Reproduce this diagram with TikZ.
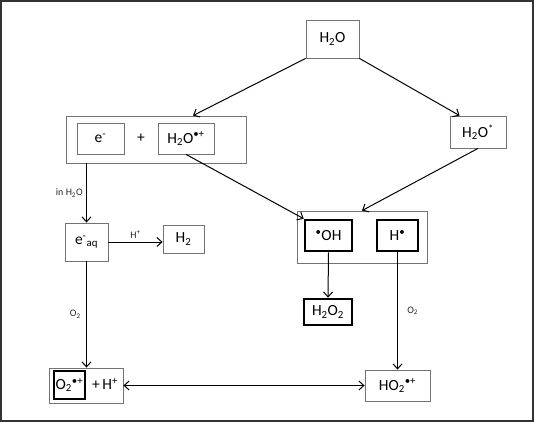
\documentclass[tikz,border=0pt]{standalone}
\usepackage{fontspec}
\setmainfont{Carlito}
\usetikzlibrary{calc,positioning,arrows.meta}

\begin{document}
\begin{tikzpicture}
     [x=1pt, y=-1pt, >={Straight Barb[length=5pt,width=9pt]}, line width=1pt,
      box/.style={draw=black!55, line width=0.8pt, inner sep=0pt, font=\fontsize{15.5}{17}\selectfont},
      heavy/.style={box, draw=black, line width=2.6pt},
      grp/.style={draw=black!55, line width=0.8pt, inner sep=0pt},
      note/.style={font=\fontsize{10}{12}\selectfont, text=black!85}]
   \useasboundingbox (0,0) rectangle (534,422);
   \draw[line width=2pt, black!80] (1,1) rectangle (533,421);
   % group boxes first, the small boxes go on top
   \node (G1) [grp, minimum width=180, minimum height=47] at (156,139.5) {};
   \node (G2) [grp, minimum width=130, minimum height=52] at (362,237) {};
   \node (G3) [grp, minimum width=74, minimum height=35] at (86,385.5) {};
   \node (H2O) [box, minimum width=53, minimum height=38] at (332.5,39) {H\textsubscript{2}O};
   \node (H2Oex) [box, minimum width=56, minimum height=32] at (478,132) {H\textsubscript{2}O\textsuperscript{*}};
   \node (E) [box, minimum width=47, minimum height=31] at (100.5,138.5) {e\textsuperscript{-}};
   \node (Plus) [font=\fontsize{15.5}{17}\selectfont] at (141,138) {+};
   \node (H2Oion) [box, minimum width=56, minimum height=31] at (186,138.5) {H\textsubscript{2}O\textsuperscript{\textbullet+}};
   \node (Eaq) [box, minimum width=43, minimum height=38] at (86.5,242) {e\textsuperscript{-}\textsubscript{aq}};
   \node (H2) [box, minimum width=41, minimum height=28] at (183.5,239) {H\textsubscript{2}};
   \node (OH) [heavy, minimum width=47, minimum height=31] at (328.5,235.5) {\textsuperscript{\textbullet}OH};
   \node (Hdot) [heavy, minimum width=41, minimum height=31] at (397.5,235.5) {H\textsuperscript{\textbullet}};
   \node (H2O2) [heavy, minimum width=48, minimum height=26] at (328,312) {H\textsubscript{2}O\textsubscript{2}};
   \node (O2) [heavy, minimum width=31, minimum height=28] at (69.5,385) {O\textsubscript{2}\textsuperscript{\textbullet+}};
   \node (PlusH) [font=\fontsize{15.5}{17}\selectfont] at (105,384) {+\,H\textsuperscript{+}};
   \node (HO2) [box, minimum width=65, minimum height=31] at (397.5,385.5) {HO\textsubscript{2}\textsuperscript{\textbullet+}};
   % connectors
   \draw[->] (H2O.south west) -- ([xshift=37pt]G1.north);
   \draw[->] (H2O.south east) -- ([xshift=10pt]H2Oex.north west);
   \draw[->] (G1.south -| Eaq) -- (Eaq.north) node[midway, left, note] {in H\textsubscript{2}O};
   \draw[->] (Eaq) -- (Eaq -| H2.west) node[midway, above, note] {H\textsuperscript{+}};
   \draw[->] (H2Oion.south) -- (OH.north west);
   \draw[->] (H2Oex.south) -- (G2.north);
   \draw[->] (OH.south) -- (H2O2.north);
   \draw[->] (Hdot.south) -- (HO2.north) node[midway, right=6pt, note] {O\textsubscript{2}};
   \draw[->] (Eaq.south) -- (Eaq.south |- G3.north) node[midway, left=2pt, note] {O\textsubscript{2}};
   \draw[<->] (G3.east) -- (HO2.west);
\end{tikzpicture}
\end{document}
